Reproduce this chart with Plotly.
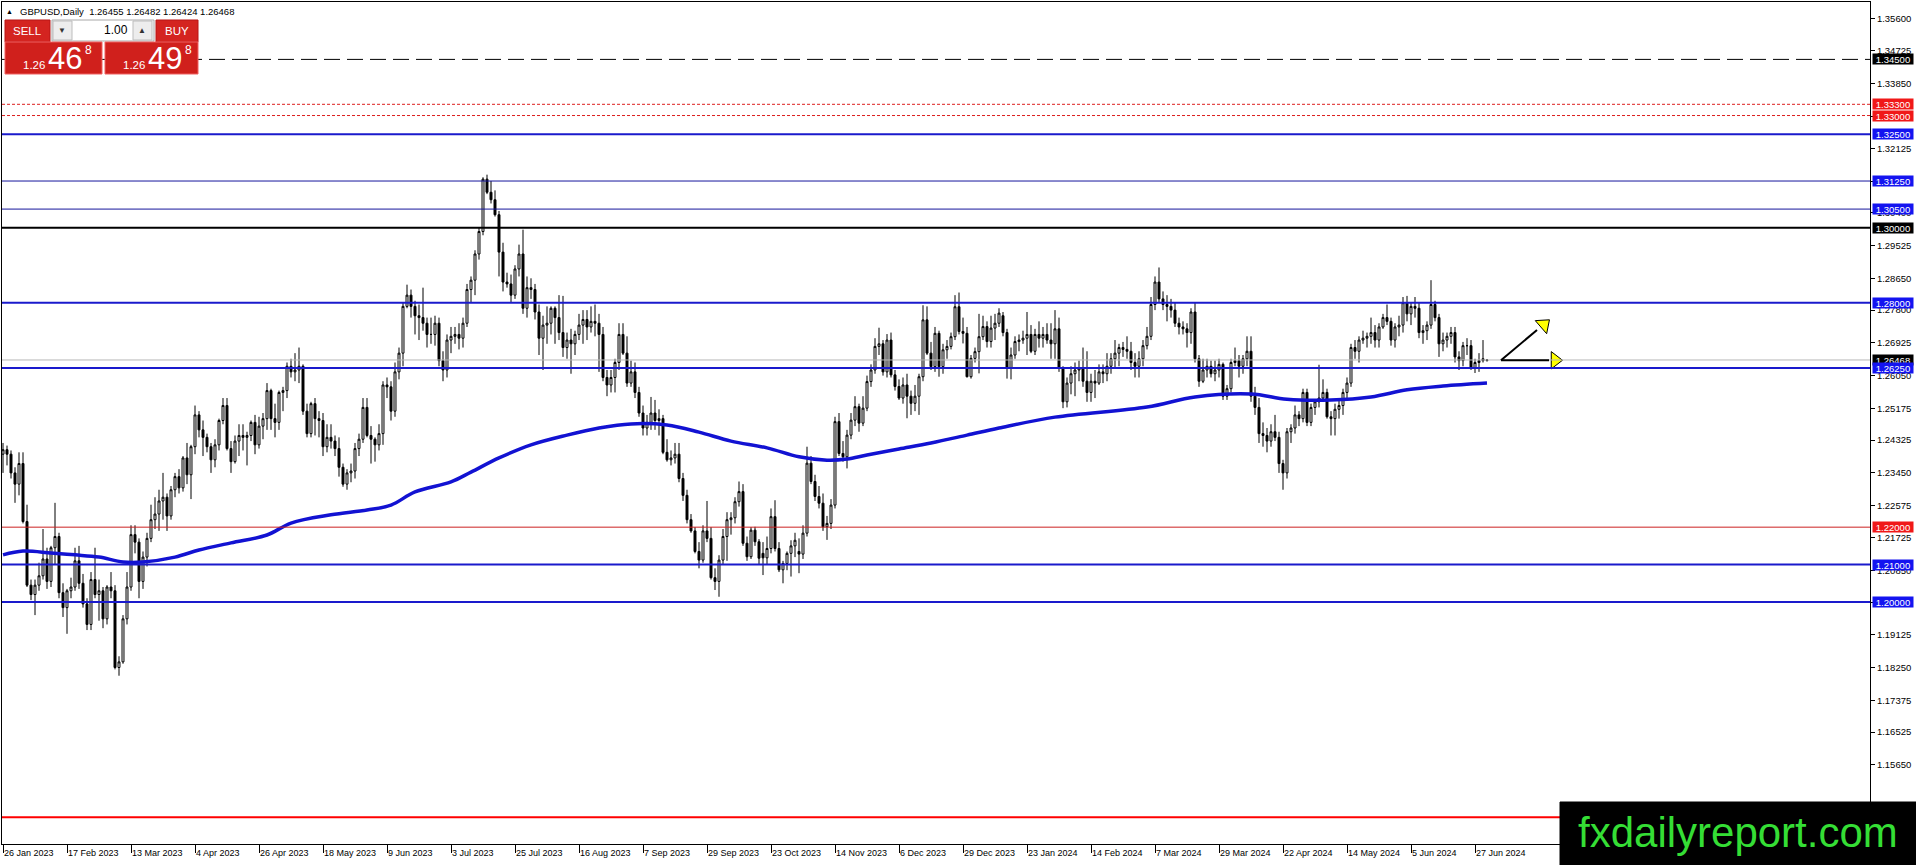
"""
GBPUSD daily chart in the MT4 look: candles, 200 day moving average,
support / resistance levels and the one-click trading panel.
"""
import plotly.graph_objects as go

# page geometry (pixels)
W, H = 1916, 865
PLOT_LEFT, PLOT_RIGHT, PLOT_TOP, PLOT_BOTTOM = 2, 1870, 2, 844

symbol = "GBPUSD,Daily"

# daily bars from 26 Jan 2023 to 2 Jul 2024 (one bar per trading day)
opens = [
    1.2395, 1.2407, 1.2395, 1.2345, 1.2315, 1.2370, 1.2215, 1.2045, 1.2020, 1.2045,
    1.2070, 1.2115, 1.2055, 1.2145, 1.2175, 1.2025, 1.1985, 1.2030, 1.2040, 1.2110,
    1.2050, 1.1995, 1.1940, 1.2060, 1.2020, 1.2030, 1.1955, 1.2040, 1.2030, 1.1825,
    1.1840, 1.1955, 1.2040, 1.2180, 1.2160, 1.2055, 1.2120, 1.2170, 1.2220, 1.2235,
    1.2270, 1.2280, 1.2230, 1.2300, 1.2335, 1.2305, 1.2385, 1.2340, 1.2415, 1.2500,
    1.2460, 1.2440, 1.2415, 1.2380, 1.2420, 1.2485, 1.2525, 1.2410, 1.2375, 1.2430,
    1.2445, 1.2440, 1.2445, 1.2480, 1.2420, 1.2470, 1.2490, 1.2565, 1.2490, 1.2480,
    1.2560, 1.2565, 1.2630, 1.2615, 1.2620, 1.2630, 1.2510, 1.2450, 1.2530, 1.2490,
    1.2485, 1.2415, 1.2440, 1.2430, 1.2410, 1.2360, 1.2315, 1.2345, 1.2350, 1.2410,
    1.2435, 1.2520, 1.2445, 1.2435, 1.2420, 1.2450, 1.2580, 1.2575, 1.2510, 1.2615,
    1.2665, 1.2790, 1.2820, 1.2790, 1.2765, 1.2760, 1.2745, 1.2715, 1.2715, 1.2745,
    1.2645, 1.2620, 1.2700, 1.2710, 1.2715, 1.2705, 1.2745, 1.2835, 1.2860, 1.2930,
    1.2990, 1.3130, 1.3095, 1.3075, 1.3035, 1.2935, 1.2855, 1.2850, 1.2820, 1.2890,
    1.2930, 1.2785, 1.2840, 1.2835, 1.2775, 1.2705, 1.2740, 1.2745, 1.2785, 1.2760,
    1.2720, 1.2680, 1.2700, 1.2690, 1.2715, 1.2740, 1.2755, 1.2735, 1.2750, 1.2745,
    1.2715, 1.2600, 1.2580, 1.2600, 1.2640, 1.2715, 1.2665, 1.2585, 1.2615, 1.2560,
    1.2505, 1.2465, 1.2480, 1.2505, 1.2485, 1.2490, 1.2400, 1.2380, 1.2385, 1.2395,
    1.2330, 1.2285, 1.2220, 1.2190, 1.2135, 1.2112, 1.2190, 1.2170, 1.2065, 1.2055,
    1.2112, 1.2175, 1.2220, 1.2225, 1.2268, 1.2295, 1.2157, 1.2121, 1.2192, 1.2161,
    1.2130, 1.2118, 1.2143, 1.2228, 1.2143, 1.2086, 1.2103, 1.2130, 1.2150, 1.2135,
    1.2128, 1.2184, 1.2371, 1.2322, 1.2282, 1.2264, 1.2201, 1.2210, 1.2259, 1.2482,
    1.2397, 1.2388, 1.2446, 1.2486, 1.2522, 1.2478, 1.2518, 1.2589, 1.2620, 1.2683,
    1.2690, 1.2615, 1.2700, 1.2607, 1.2576, 1.2545, 1.2580, 1.2550, 1.2531, 1.2550,
    1.2602, 1.2754, 1.2665, 1.2629, 1.2718, 1.2629, 1.2674, 1.2683, 1.2709, 1.2789,
    1.2723, 1.2718, 1.2602, 1.2651, 1.2669, 1.2709, 1.2736, 1.2696, 1.2732, 1.2745,
    1.2765, 1.2720, 1.2625, 1.2660, 1.2696, 1.2700, 1.2705, 1.2715, 1.2670, 1.2715,
    1.2705, 1.2715, 1.2700, 1.2690, 1.2730, 1.2625, 1.2535, 1.2585, 1.2610, 1.2620,
    1.2625, 1.2590, 1.2560, 1.2590, 1.2585, 1.2615, 1.2610, 1.2630, 1.2650, 1.2665,
    1.2680, 1.2675, 1.2670, 1.2640, 1.2630, 1.2650, 1.2685, 1.2710, 1.2795, 1.2855,
    1.2810, 1.2795, 1.2790, 1.2780, 1.2745, 1.2735, 1.2730, 1.2720, 1.2775, 1.2650,
    1.2590, 1.2620, 1.2630, 1.2610, 1.2620, 1.2635, 1.2550, 1.2570, 1.2640, 1.2645,
    1.2630, 1.2650, 1.2670, 1.2550, 1.2520, 1.2450, 1.2445, 1.2430, 1.2455, 1.2440,
    1.2370, 1.2345, 1.2455, 1.2465, 1.2500, 1.2490, 1.2560, 1.2480, 1.2520, 1.2535,
    1.2545, 1.2560, 1.2495, 1.2490, 1.2515, 1.2525, 1.2560, 1.2585, 1.2680, 1.2670,
    1.2700, 1.2705, 1.2710, 1.2720, 1.2700, 1.2735, 1.2760, 1.2750, 1.2700, 1.2735,
    1.2740, 1.2800, 1.2770, 1.2790, 1.2785, 1.2720, 1.2725, 1.2740, 1.2795, 1.2760,
    1.2690, 1.2700, 1.2710, 1.2720, 1.2655, 1.2645, 1.2685, 1.2685, 1.2625, 1.2640,
    1.2645, 1.26455,
]
highs = [
    1.2425, 1.2418, 1.2405, 1.2360, 1.2400, 1.2400, 1.2260, 1.2060, 1.2060, 1.2105,
    1.2195, 1.2145, 1.2150, 1.2265, 1.2185, 1.2050, 1.2035, 1.2065, 1.2145, 1.2150,
    1.2075, 1.2010, 1.2080, 1.2145, 1.2060, 1.2040, 1.2045, 1.2080, 1.2045, 1.1855,
    1.1965, 1.2080, 1.2205, 1.2205, 1.2170, 1.2135, 1.2185, 1.2260, 1.2280, 1.2300,
    1.2345, 1.2290, 1.2310, 1.2345, 1.2355, 1.2390, 1.2425, 1.2420, 1.2525, 1.2510,
    1.2485, 1.2450, 1.2425, 1.2435, 1.2490, 1.2545, 1.2545, 1.2430, 1.2445, 1.2475,
    1.2475, 1.2455, 1.2485, 1.2500, 1.2495, 1.2505, 1.2585, 1.2570, 1.2530, 1.2565,
    1.2575, 1.2640, 1.2650, 1.2665, 1.2680, 1.2635, 1.2530, 1.2535, 1.2545, 1.2510,
    1.2505, 1.2475, 1.2475, 1.2445, 1.2440, 1.2370, 1.2355, 1.2370, 1.2425, 1.2450,
    1.2545, 1.2545, 1.2470, 1.2440, 1.2475, 1.2590, 1.2600, 1.2590, 1.2640, 1.2680,
    1.2800, 1.2848, 1.2835, 1.2805, 1.2795, 1.2840, 1.2760, 1.2760, 1.2765, 1.2760,
    1.2670, 1.2715, 1.2735, 1.2735, 1.2745, 1.2760, 1.2850, 1.2870, 1.2940, 1.3000,
    1.3135, 1.3142, 1.3125, 1.3100, 1.3045, 1.2960, 1.2880, 1.2875, 1.2900, 1.2955,
    1.2995, 1.2870, 1.2865, 1.2850, 1.2795, 1.2765, 1.2790, 1.2790, 1.2790, 1.2820,
    1.2818, 1.2720, 1.2730, 1.2725, 1.2770, 1.2780, 1.2780, 1.2790, 1.2795, 1.2770,
    1.2735, 1.2620, 1.2620, 1.2650, 1.2745, 1.2745, 1.2710, 1.2645, 1.2640, 1.2575,
    1.2525, 1.2500, 1.2548, 1.2540, 1.2515, 1.2500, 1.2435, 1.2405, 1.2425, 1.2425,
    1.2345, 1.2300, 1.2235, 1.2200, 1.2160, 1.2205, 1.2270, 1.2200, 1.2090, 1.2125,
    1.2195, 1.2240, 1.2240, 1.2280, 1.2322, 1.2315, 1.2175, 1.2200, 1.2201, 1.2168,
    1.2160, 1.2175, 1.2250, 1.2272, 1.2160, 1.2110, 1.2135, 1.2165, 1.2185, 1.2170,
    1.2205, 1.2415, 1.2390, 1.2340, 1.2310, 1.2290, 1.2230, 1.2275, 1.2495, 1.2505,
    1.2430, 1.2460, 1.2505, 1.2550, 1.2530, 1.2550, 1.2605, 1.2635, 1.2705, 1.2733,
    1.2700, 1.2716, 1.2720, 1.2620, 1.2595, 1.2600, 1.2610, 1.2565, 1.2580, 1.2610,
    1.2793, 1.2790, 1.2695, 1.2735, 1.2725, 1.2690, 1.2700, 1.2720, 1.2820, 1.2827,
    1.2760, 1.2735, 1.2660, 1.2680, 1.2770, 1.2765, 1.2750, 1.2765, 1.2770, 1.2785,
    1.2775, 1.2730, 1.2680, 1.2710, 1.2715, 1.2725, 1.2775, 1.2740, 1.2730, 1.2750,
    1.2735, 1.2745, 1.2745, 1.2780, 1.2760, 1.2630, 1.2600, 1.2630, 1.2640, 1.2645,
    1.2680, 1.2670, 1.2610, 1.2620, 1.2635, 1.2635, 1.2665, 1.2665, 1.2700, 1.2690,
    1.2695, 1.2710, 1.2695, 1.2665, 1.2670, 1.2700, 1.2735, 1.2815, 1.2870, 1.2894,
    1.2830, 1.2820, 1.2810, 1.2800, 1.2760, 1.2750, 1.2745, 1.2785, 1.2800, 1.2660,
    1.2650, 1.2650, 1.2645, 1.2645, 1.2650, 1.2640, 1.2580, 1.2650, 1.2680, 1.2660,
    1.2660, 1.2710, 1.2710, 1.2575, 1.2545, 1.2480, 1.2465, 1.2475, 1.2500, 1.2455,
    1.2380, 1.2465, 1.2475, 1.2525, 1.2510, 1.2570, 1.2570, 1.2530, 1.2540, 1.2634,
    1.2595, 1.2570, 1.2510, 1.2530, 1.2540, 1.2570, 1.2600, 1.2690, 1.2700, 1.2710,
    1.2725, 1.2720, 1.2760, 1.2740, 1.2745, 1.2770, 1.2795, 1.2760, 1.2745, 1.2765,
    1.2815, 1.2818, 1.2800, 1.2815, 1.2800, 1.2740, 1.2750, 1.2860, 1.2805, 1.2770,
    1.2720, 1.2720, 1.2735, 1.2735, 1.2670, 1.2695, 1.2705, 1.2700, 1.2650, 1.2665,
    1.2700, 1.26482,
]
lows = [
    1.2345, 1.2365, 1.2330, 1.2265, 1.2285, 1.2210, 1.2040, 1.2005, 1.1965, 1.2030,
    1.2060, 1.2035, 1.2040, 1.2100, 1.2010, 1.1960, 1.1915, 1.2010, 1.2030, 1.2035,
    1.1985, 1.1925, 1.1925, 1.2010, 1.1950, 1.1930, 1.1940, 1.2010, 1.1820, 1.1803,
    1.1835, 1.1940, 1.2030, 1.2130, 1.2010, 1.2035, 1.2095, 1.2160, 1.2195, 1.2190,
    1.2220, 1.2190, 1.2220, 1.2280, 1.2290, 1.2295, 1.2315, 1.2275, 1.2395, 1.2440,
    1.2390, 1.2400, 1.2345, 1.2360, 1.2405, 1.2475, 1.2405, 1.2345, 1.2370, 1.2390,
    1.2405, 1.2365, 1.2430, 1.2395, 1.2410, 1.2435, 1.2460, 1.2460, 1.2440, 1.2460,
    1.2510, 1.2545, 1.2600, 1.2590, 1.2585, 1.2500, 1.2440, 1.2440, 1.2445, 1.2440,
    1.2390, 1.2400, 1.2410, 1.2390, 1.2335, 1.2308, 1.2300, 1.2320, 1.2330, 1.2390,
    1.2425, 1.2440, 1.2370, 1.2375, 1.2405, 1.2420, 1.2545, 1.2485, 1.2495, 1.2595,
    1.2630, 1.2785, 1.2760, 1.2715, 1.2700, 1.2725, 1.2680, 1.2690, 1.2685, 1.2630,
    1.2590, 1.2600, 1.2665, 1.2690, 1.2675, 1.2680, 1.2735, 1.2800, 1.2820, 1.2915,
    1.2980, 1.3090, 1.3065, 1.3030, 1.2870, 1.2830, 1.2840, 1.2800, 1.2810, 1.2870,
    1.2770, 1.2760, 1.2810, 1.2755, 1.2660, 1.2620, 1.2690, 1.2715, 1.2690, 1.2700,
    1.2655, 1.2650, 1.2610, 1.2660, 1.2700, 1.2690, 1.2700, 1.2720, 1.2710, 1.2615,
    1.2590, 1.2550, 1.2560, 1.2560, 1.2620, 1.2660, 1.2575, 1.2575, 1.2545, 1.2495,
    1.2445, 1.2445, 1.2460, 1.2460, 1.2445, 1.2395, 1.2375, 1.2365, 1.2370, 1.2320,
    1.2270, 1.2210, 1.2185, 1.2130, 1.2090, 1.2105, 1.2160, 1.2060, 1.2032, 1.2014,
    1.2100, 1.2110, 1.2180, 1.2210, 1.2255, 1.2150, 1.2110, 1.2115, 1.2150, 1.2100,
    1.2072, 1.2100, 1.2130, 1.2135, 1.2080, 1.2050, 1.2085, 1.2068, 1.2120, 1.2077,
    1.2115, 1.2175, 1.2315, 1.2270, 1.2250, 1.2190, 1.2166, 1.2195, 1.2250, 1.2390,
    1.2375, 1.2357, 1.2435, 1.2470, 1.2455, 1.2470, 1.2510, 1.2575, 1.2610, 1.2660,
    1.2605, 1.2600, 1.2600, 1.2565, 1.2540, 1.2530, 1.2491, 1.2500, 1.2510, 1.2500,
    1.2590, 1.2660, 1.2620, 1.2615, 1.2602, 1.2610, 1.2650, 1.2675, 1.2700, 1.2715,
    1.2691, 1.2600, 1.2597, 1.2640, 1.2611, 1.2700, 1.2680, 1.2680, 1.2700, 1.2735,
    1.2710, 1.2597, 1.2595, 1.2650, 1.2670, 1.2690, 1.2660, 1.2665, 1.2660, 1.2680,
    1.2680, 1.2690, 1.2650, 1.2650, 1.2615, 1.2518, 1.2520, 1.2555, 1.2550, 1.2590,
    1.2575, 1.2535, 1.2535, 1.2545, 1.2580, 1.2585, 1.2590, 1.2610, 1.2625, 1.2630,
    1.2655, 1.2650, 1.2620, 1.2600, 1.2600, 1.2630, 1.2675, 1.2700, 1.2780, 1.2800,
    1.2780, 1.2750, 1.2760, 1.2735, 1.2715, 1.2715, 1.2680, 1.2690, 1.2640, 1.2575,
    1.2585, 1.2600, 1.2600, 1.2590, 1.2600, 1.2540, 1.2540, 1.2560, 1.2630, 1.2600,
    1.2610, 1.2630, 1.2535, 1.2500, 1.2425, 1.2415, 1.2400, 1.2415, 1.2430, 1.2345,
    1.2300, 1.2330, 1.2425, 1.2450, 1.2470, 1.2480, 1.2470, 1.2470, 1.2500, 1.2520,
    1.2535, 1.2490, 1.2445, 1.2445, 1.2490, 1.2500, 1.2545, 1.2575, 1.2650, 1.2640,
    1.2690, 1.2680, 1.2690, 1.2680, 1.2680, 1.2730, 1.2740, 1.2685, 1.2680, 1.2710,
    1.2720, 1.2750, 1.2740, 1.2760, 1.2705, 1.2690, 1.2700, 1.2730, 1.2750, 1.2655,
    1.2670, 1.2680, 1.2690, 1.2640, 1.2620, 1.2630, 1.2660, 1.2620, 1.2612, 1.2615,
    1.2640, 1.26424,
]
closes = [
    1.2407, 1.2395, 1.2345, 1.2315, 1.2370, 1.2215, 1.2045, 1.2020, 1.2045, 1.2070,
    1.2115, 1.2055, 1.2145, 1.2175, 1.2025, 1.1985, 1.2030, 1.2040, 1.2110, 1.2050,
    1.1995, 1.1940, 1.2060, 1.2020, 1.2030, 1.1955, 1.2040, 1.2030, 1.1825, 1.1840,
    1.1955, 1.2040, 1.2180, 1.2160, 1.2055, 1.2120, 1.2170, 1.2220, 1.2235, 1.2270,
    1.2280, 1.2230, 1.2300, 1.2335, 1.2305, 1.2385, 1.2340, 1.2415, 1.2500, 1.2460,
    1.2440, 1.2415, 1.2380, 1.2420, 1.2485, 1.2525, 1.2410, 1.2375, 1.2430, 1.2445,
    1.2440, 1.2445, 1.2480, 1.2420, 1.2470, 1.2490, 1.2565, 1.2490, 1.2480, 1.2560,
    1.2565, 1.2630, 1.2615, 1.2620, 1.2630, 1.2510, 1.2450, 1.2530, 1.2490, 1.2485,
    1.2415, 1.2440, 1.2430, 1.2410, 1.2360, 1.2315, 1.2345, 1.2350, 1.2410, 1.2435,
    1.2520, 1.2445, 1.2435, 1.2420, 1.2450, 1.2580, 1.2575, 1.2510, 1.2615, 1.2665,
    1.2790, 1.2820, 1.2790, 1.2765, 1.2760, 1.2745, 1.2715, 1.2715, 1.2745, 1.2645,
    1.2620, 1.2700, 1.2710, 1.2715, 1.2705, 1.2745, 1.2835, 1.2860, 1.2930, 1.2990,
    1.3130, 1.3095, 1.3075, 1.3035, 1.2935, 1.2855, 1.2850, 1.2820, 1.2890, 1.2930,
    1.2785, 1.2840, 1.2835, 1.2775, 1.2705, 1.2740, 1.2745, 1.2785, 1.2760, 1.2720,
    1.2680, 1.2700, 1.2690, 1.2715, 1.2740, 1.2755, 1.2735, 1.2750, 1.2745, 1.2715,
    1.2600, 1.2580, 1.2600, 1.2640, 1.2715, 1.2665, 1.2585, 1.2615, 1.2560, 1.2505,
    1.2465, 1.2480, 1.2505, 1.2485, 1.2490, 1.2400, 1.2380, 1.2385, 1.2395, 1.2330,
    1.2285, 1.2220, 1.2190, 1.2135, 1.2112, 1.2190, 1.2170, 1.2065, 1.2055, 1.2112,
    1.2175, 1.2220, 1.2225, 1.2268, 1.2295, 1.2157, 1.2121, 1.2192, 1.2161, 1.2117,
    1.2118, 1.2143, 1.2228, 1.2143, 1.2086, 1.2103, 1.2130, 1.2150, 1.2165, 1.2128,
    1.2184, 1.2371, 1.2322, 1.2282, 1.2264, 1.2201, 1.2210, 1.2259, 1.2482, 1.2397,
    1.2388, 1.2446, 1.2486, 1.2522, 1.2478, 1.2518, 1.2589, 1.2620, 1.2683, 1.2690,
    1.2615, 1.2700, 1.2607, 1.2576, 1.2545, 1.2580, 1.2550, 1.2531, 1.2550, 1.2602,
    1.2754, 1.2665, 1.2629, 1.2718, 1.2629, 1.2674, 1.2683, 1.2709, 1.2789, 1.2723,
    1.2718, 1.2602, 1.2651, 1.2669, 1.2709, 1.2736, 1.2696, 1.2732, 1.2745, 1.2772,
    1.2720, 1.2625, 1.2660, 1.2696, 1.2700, 1.2705, 1.2715, 1.2670, 1.2715, 1.2705,
    1.2715, 1.2700, 1.2690, 1.2730, 1.2625, 1.2535, 1.2585, 1.2610, 1.2620, 1.2625,
    1.2590, 1.2560, 1.2590, 1.2585, 1.2615, 1.2610, 1.2630, 1.2650, 1.2665, 1.2680,
    1.2675, 1.2670, 1.2640, 1.2630, 1.2650, 1.2685, 1.2710, 1.2795, 1.2855, 1.2810,
    1.2795, 1.2790, 1.2780, 1.2745, 1.2735, 1.2730, 1.2720, 1.2775, 1.2650, 1.2590,
    1.2620, 1.2630, 1.2610, 1.2620, 1.2635, 1.2550, 1.2570, 1.2640, 1.2645, 1.2630,
    1.2650, 1.2670, 1.2550, 1.2520, 1.2450, 1.2445, 1.2430, 1.2455, 1.2440, 1.2370,
    1.2345, 1.2455, 1.2465, 1.2500, 1.2490, 1.2560, 1.2480, 1.2520, 1.2535, 1.2545,
    1.2560, 1.2495, 1.2490, 1.2515, 1.2525, 1.2560, 1.2585, 1.2680, 1.2670, 1.2700,
    1.2705, 1.2710, 1.2720, 1.2700, 1.2735, 1.2760, 1.2750, 1.2700, 1.2735, 1.2740,
    1.2800, 1.2770, 1.2790, 1.2785, 1.2720, 1.2725, 1.2740, 1.2795, 1.2760, 1.2690,
    1.2700, 1.2710, 1.2720, 1.2655, 1.2645, 1.2685, 1.2685, 1.2625, 1.2640, 1.2645,
    1.2650, 1.26468,
]

ma_bar = [0, 5, 12, 18, 24, 30, 35, 43, 49, 57, 66, 72, 82, 91, 97, 103, 112, 117,
          124, 132, 141, 149, 157, 166, 174, 182, 191, 199, 206, 211, 216, 224,
          232, 241, 249, 263, 286, 298, 312, 321, 332, 342, 351, 360, 371]
ma_value = [1.2126, 1.2136, 1.2131, 1.2126, 1.2120, 1.2107, 1.2107, 1.2120, 1.2139,
            1.2158, 1.2179, 1.2211, 1.2233, 1.2246, 1.2259, 1.2294, 1.2321, 1.2347,
            1.2385, 1.2420, 1.2446, 1.2465, 1.2476, 1.2473, 1.2454, 1.2430, 1.2412,
            1.2388, 1.2379, 1.2382, 1.2393, 1.2409, 1.2425, 1.2446, 1.2465, 1.2494,
            1.2521, 1.2548, 1.2556, 1.2542, 1.2540, 1.2548, 1.2567, 1.2577, 1.2585]

# time axis labels, one every 16 bars
date_labels = ["26 Jan 2023", "17 Feb 2023", "13 Mar 2023", "4 Apr 2023", "26 Apr 2023",
               "18 May 2023", "9 Jun 2023", "3 Jul 2023", "25 Jul 2023", "16 Aug 2023",
               "7 Sep 2023", "29 Sep 2023", "23 Oct 2023", "14 Nov 2023", "6 Dec 2023",
               "29 Dec 2023", "23 Jan 2024", "14 Feb 2024", "7 Mar 2024", "29 Mar 2024",
               "22 Apr 2024", "14 May 2024", "5 Jun 2024", "27 Jun 2024"]

price_ticks = [1.35600, 1.34725, 1.33850, 1.32975, 1.32125, 1.31250, 1.30400, 1.29525,
               1.28650, 1.27800, 1.26925, 1.26050, 1.25175, 1.24325, 1.23450, 1.22575,
               1.21725, 1.20850, 1.19975, 1.19125, 1.18250, 1.17375, 1.16525, 1.15650]

# drawn levels
levels_blue_thick = [1.3250, 1.2800, 1.2625, 1.2100, 1.2000]
levels_blue_thin = [1.3125, 1.3050]
levels_red_dotted = [1.3330, 1.3300]
levels_red_thin = [1.2200]
levels_black_thick = [1.3000]
levels_black_dashed = [1.3450]
level_red_bottom = 1.1425

ask_price = 1.26498
lot_size = "1.00"
watermark = "fxdailyreport.com"

FONT = "Liberation Sans, Arial, sans-serif"
BLUE = "#1a1acc"
BLUE_THIN = "#16169c"
BLUE_TAG = "#1414f0"
RED = "#dd1f1f"
BUTTON_RED = "#d42420"


def paper_x(x: float) -> float:
    """Page pixel column -> paper coordinate."""
    return (x - PLOT_LEFT) / (PLOT_RIGHT - PLOT_LEFT)


def paper_y(y: float) -> float:
    """Page pixel row -> paper coordinate."""
    return (PLOT_BOTTOM - y) / (PLOT_BOTTOM - PLOT_TOP)


def add_level(fig: go.Figure, value: float, color: str, width: float, dash: str = "solid",
              tag_color: str = None) -> None:
    fig.add_shape(type="line", xref="paper", yref="y", x0=0, x1=1, y0=value, y1=value,
                  line=dict(color=color, width=width, dash=dash))
    if tag_color:
        add_tag(fig, value, tag_color)


def add_tag(fig: go.Figure, value: float, tag_color: str) -> None:
    """Coloured price tag on the right price scale."""
    fig.add_annotation(xref="paper", yref="y", x=paper_x(PLOT_RIGHT + 2), y=value,
                       xanchor="left", yanchor="middle", showarrow=False,
                       text=f"{value:.5f}", bgcolor=tag_color, borderpad=0,
                       width=40, height=10,
                       font=dict(family=FONT, size=9.5, color="white"))


def add_rect(fig: go.Figure, x0, y0, x1, y1, fill, line=None) -> None:
    fig.add_shape(type="rect", xref="paper", yref="paper",
                  x0=paper_x(x0), x1=paper_x(x1), y0=paper_y(y0), y1=paper_y(y1),
                  fillcolor=fill, line=dict(color=line or fill, width=1))


def add_text(fig: go.Figure, x, y, text, size, color, anchor="center") -> None:
    fig.add_annotation(xref="paper", yref="paper", x=paper_x(x), y=paper_y(y),
                       text=text, showarrow=False, xanchor=anchor, yanchor="middle",
                       font=dict(family=FONT, size=size, color=color))


bars = list(range(len(closes)))

fig = go.Figure()
fig.add_trace(go.Candlestick(
    x=bars, open=opens, high=highs, low=lows, close=closes,
    increasing=dict(line=dict(color="black", width=1), fillcolor="white"),
    decreasing=dict(line=dict(color="black", width=1), fillcolor="black"),
    whiskerwidth=0, hoverinfo="skip", showlegend=False,
))
fig.add_trace(go.Scatter(
    x=ma_bar, y=ma_value, mode="lines", line=dict(color="#1212d2", width=3.5, shape="spline"),
    hoverinfo="skip", showlegend=False,
))

# levels
for v in levels_black_dashed:
    add_level(fig, v, "black", 1, "16px,7px", "black")
for v in levels_red_dotted:
    add_level(fig, v, RED, 1, "3px,2px", "#f01818")
for v in levels_blue_thin:
    add_level(fig, v, BLUE_THIN, 1, tag_color=BLUE_TAG)
for v in levels_black_thick:
    add_level(fig, v, "black", 2, tag_color="black")
for v in levels_red_thin:
    add_level(fig, v, "#cc2020", 1, tag_color="#f01818")
add_level(fig, level_red_bottom, "#ff0000", 2)
# current bid line, then the blue levels so the 1.26250 tag sits over the bid tag
add_level(fig, closes[-1], "#b8b8b8", 1, tag_color="black")
for v in levels_blue_thick:
    add_level(fig, v, BLUE, 2, tag_color=BLUE_TAG)

# yellow arrows drawn by the analyst
start = (374.5, 1.2646)
fig.add_shape(type="line", xref="x", yref="y", x0=start[0], y0=start[1], x1=386.5, y1=1.2646,
              line=dict(color="black", width=2))
fig.add_shape(type="line", xref="x", yref="y", x0=start[0], y0=start[1], x1=383.5, y1=1.2727,
              line=dict(color="black", width=2))
fig.add_trace(go.Scatter(
    x=[388.0, 385.2], y=[1.2646, 1.2741], mode="markers",
    marker=dict(symbol="triangle-up", size=15, color="#ffff00", angle=[90, 49],
                line=dict(color="black", width=1)),
    hoverinfo="skip", showlegend=False,
))

# header line
bar_text = " ".join(f"{v:.5f}" for v in (opens[-1], highs[-1], lows[-1], closes[-1]))
add_text(fig, 9, 11, "▲", 7, "black")
add_text(fig, 18, 11, f"{symbol}  {bar_text}", 9.5, "black", anchor="left")

# one-click trading panel
add_rect(fig, 5, 20, 50, 42, BUTTON_RED, "#b81414")
add_text(fig, 27, 31, "SELL", 11.5, "white")
add_rect(fig, 52, 20, 154, 41, "white", "#a8a8a8")
add_rect(fig, 53, 21, 72, 40, "#ededed", "#bdbdbd")
add_text(fig, 62, 30, "▼", 8, "#333333")
add_rect(fig, 133, 21, 152, 40, "#ededed", "#bdbdbd")
add_text(fig, 142, 30, "▲", 8, "#333333")
add_text(fig, 130, 30, lot_size, 12, "black", anchor="right")
add_rect(fig, 156, 20, 198, 42, BUTTON_RED, "#b81414")
add_text(fig, 177, 31, "BUY", 11.5, "white")

for x0, x1, price in ((5, 102, closes[-1]), (105, 198, ask_price)):
    s = f"{price:.5f}"
    add_rect(fig, x0, 42, x1, 74, "#d0201c", "#f06060")
    add_text(fig, x0 + 16, 65, s[:4], 11.5, "white", anchor="left")
    add_text(fig, x0 + 41, 58, s[4:6], 31, "white", anchor="left")
    add_text(fig, x0 + 78, 50, s[6], 12, "white", anchor="left")

# watermark
add_rect(fig, 1560, 802, W + 2, H + 2, "black")
add_text(fig, 1738, 832, watermark, 42, "#35de35")

fig.update_layout(
    width=W, height=H,
    margin=dict(l=PLOT_LEFT, r=W - PLOT_RIGHT, t=PLOT_TOP, b=H - PLOT_BOTTOM),
    paper_bgcolor="white", plot_bgcolor="white",
    font=dict(family=FONT, color="black"),
    showlegend=False, hovermode=False, dragmode=False,
    xaxis=dict(
        range=[(PLOT_LEFT - 3) / 4, (PLOT_RIGHT - 3) / 4],
        rangeslider=dict(visible=False),
        tickvals=[16 * k for k in range(len(date_labels))], ticktext=date_labels,
        ticks="outside", ticklen=8, tickcolor="black", tickwidth=1,
        ticklabelposition="outside right",
        tickfont=dict(family=FONT, size=9, color="black"),
        showgrid=False, zeroline=False,
        showline=True, linecolor="black", linewidth=1, mirror=True,
    ),
    yaxis=dict(
        range=[1.13533, 1.36034], side="right",
        tickvals=price_ticks, ticktext=[f"{v:.5f}" for v in price_ticks],
        ticks="outside", ticklen=4, tickcolor="black", tickwidth=1,
        tickfont=dict(family=FONT, size=9.5, color="black"),
        showgrid=False, zeroline=False,
        showline=True, linecolor="black", linewidth=1, mirror=True,
    ),
)

# the page has default body margins; drop them so the figure fills the window exactly
fig.write_html("out.html", config={"displayModeBar": False, "staticPlot": True},
               post_script="document.body.style.margin='0';"
                           "document.documentElement.style.overflow='hidden';")
